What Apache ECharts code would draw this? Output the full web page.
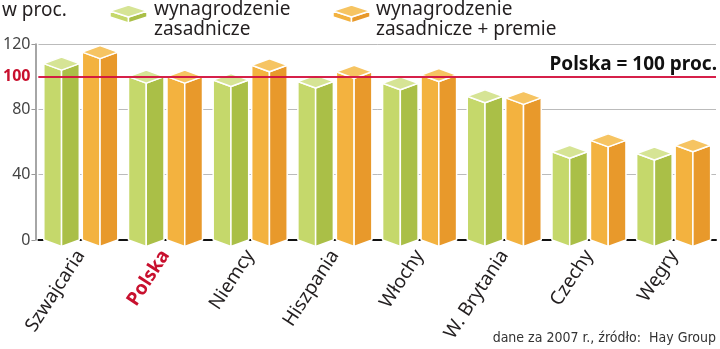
<!DOCTYPE html>
<html>
<head>
<meta charset="utf-8">
<script src="https://cdn.jsdelivr.net/npm/echarts@6/dist/echarts.min.js"></script>
<style>html,body{margin:0;padding:0;background:#fff}#c{width:720px;height:349px}</style>
</head>
<body>
<div id="c"></div>
<script>
const categories = ['Szwajcaria', 'Polska', 'Niemcy', 'Hiszpania', 'Włochy', 'W. Brytania', 'Czechy', 'Węgry'];
const basicPay = [108, 100, 98, 97, 96, 88, 54, 53];
const totalPay = [115, 100, 107, 103, 101, 87, 61, 58];
const seriesNames = ['wynagrodzenie\nzasadnicze', 'wynagrodzenie\nzasadnicze + premie'];
const yMin = 0, yMax = 120, yInterval = 40;
const refValue = 100;
const refLabel = 'Polska = 100 proc.';
const unitLabel = 'w proc.';
const sourceLabel = 'dane za 2007 r., źródło:  Hay Group';

const FONT = 'Noto Sans';
const GREEN = { front: '#c5d86b', side: '#aabf47', top: '#d6e495' };
const ORANGE = { front: '#f3b23f', side: '#e8992b', top: '#f6c462' };

function boxShapes(x0, x1, yTop, yBot, d, col) {
  const xm = (x0 + x1) / 2;
  const st = { stroke: '#fff', lineWidth: 1.5, lineJoin: 'round' };
  return [
    { type: 'polygon', shape: { points: [[x0, yTop], [xm, yTop + d], [xm, yBot + d], [x0, yBot]] }, style: Object.assign({ fill: col.front }, st) },
    { type: 'polygon', shape: { points: [[xm, yTop + d], [x1, yTop], [x1, yBot], [xm, yBot + d]] }, style: Object.assign({ fill: col.side }, st) },
    { type: 'polygon', shape: { points: [[x0, yTop], [xm, yTop - d], [x1, yTop], [xm, yTop + d]] }, style: Object.assign({ fill: col.top }, st) }
  ];
}

function makeRender(which, col) {
  return function (params, api) {
    const idx = api.value(0);
    const val = api.value(1);
    const base = api.coord([idx, 0]);
    const top = api.coord([idx, val]);
    const cx = base[0];
    const x0 = which === 0 ? cx - 37 : cx + 1.5;
    const x1 = x0 + 35.5;
    return { type: 'group', children: boxShapes(x0, x1, top[1], base[1], 6.5, col) };
  };
}

const chart = echarts.init(document.getElementById('c'), null, { renderer: 'canvas' });

const legendGraphics = [
  { type: 'text', left: 2, top: 1, style: { text: unitLabel, font: '19px "' + FONT + '"', fill: '#231f20' } },
  { type: 'group', children: boxShapes(110, 147, 11, 17, 6, GREEN) },
  { type: 'text', left: 154, top: 0, style: { text: seriesNames[0], font: '19px "' + FONT + '"', lineHeight: 20, fill: '#231f20' } },
  { type: 'group', children: boxShapes(333, 370, 11, 17, 6, ORANGE) },
  { type: 'text', left: 376, top: 0, style: { text: seriesNames[1], font: '19px "' + FONT + '"', lineHeight: 20, fill: '#231f20' } },
  { type: 'text', right: 4, bottom: 4, style: { text: sourceLabel, font: '14px "DejaVu Sans Condensed", "' + FONT + '"', fill: '#333' } }
];

chart.setOption({
  animation: false,
  grid: { left: 37, right: 4, top: 44, bottom: 109 },
  graphic: legendGraphics,
  xAxis: {
    type: 'category',
    data: categories,
    axisLine: { lineStyle: { color: '#111', width: 2 } },
    axisTick: { show: false },
    splitLine: { show: false },
    axisLabel: {
      rotate: 57,
      margin: 12,
      interval: 0,
      fontFamily: FONT,
      fontSize: 19,
      color: '#231f20',
      formatter: function (v) { return v === 'Polska' ? '{p|' + v + '}' : v; },
      rich: { p: { color: '#c8102e', fontWeight: 'bold', fontSize: 19, fontFamily: FONT } }
    }
  },
  yAxis: {
    type: 'value',
    min: yMin,
    max: yMax,
    interval: yInterval,
    offset: 3,
    axisLine: { show: true, lineStyle: { color: '#888', width: 1.5 } },
    axisTick: { show: true, length: 4, lineStyle: { color: '#999' } },
    axisLabel: { fontFamily: FONT, fontSize: 16, color: '#444', margin: 5 },
    splitLine: { lineStyle: { color: '#bbb', width: 1 } }
  },
  series: [
    {
      type: 'line',
      data: [],
      z: 1,
      silent: true,
      markLine: {
        symbol: 'none',
        silent: true,
        animation: false,
        lineStyle: { color: '#d3123f', width: 1.5, type: 'solid' },
        data: [
          { yAxis: refValue, label: { position: 'start', formatter: String(refValue), color: '#c8102e', fontWeight: 'bold', fontSize: 16, fontFamily: FONT, distance: 8 } },
          { yAxis: refValue, label: { position: 'insideEndTop', formatter: refLabel, color: '#111', fontWeight: 'bold', fontSize: 19, fontFamily: FONT, distance: 3, padding: [0, -4, 0, 0] } }
        ]
      }
    },
    {
      name: seriesNames[0],
      type: 'custom',
      z: 3,
      renderItem: makeRender(0, GREEN),
      data: basicPay.map(function (v, i) { return [i, v]; })
    },
    {
      name: seriesNames[1],
      type: 'custom',
      z: 3,
      renderItem: makeRender(1, ORANGE),
      data: totalPay.map(function (v, i) { return [i, v]; })
    }
  ]
});
</script>
</body>
</html>
